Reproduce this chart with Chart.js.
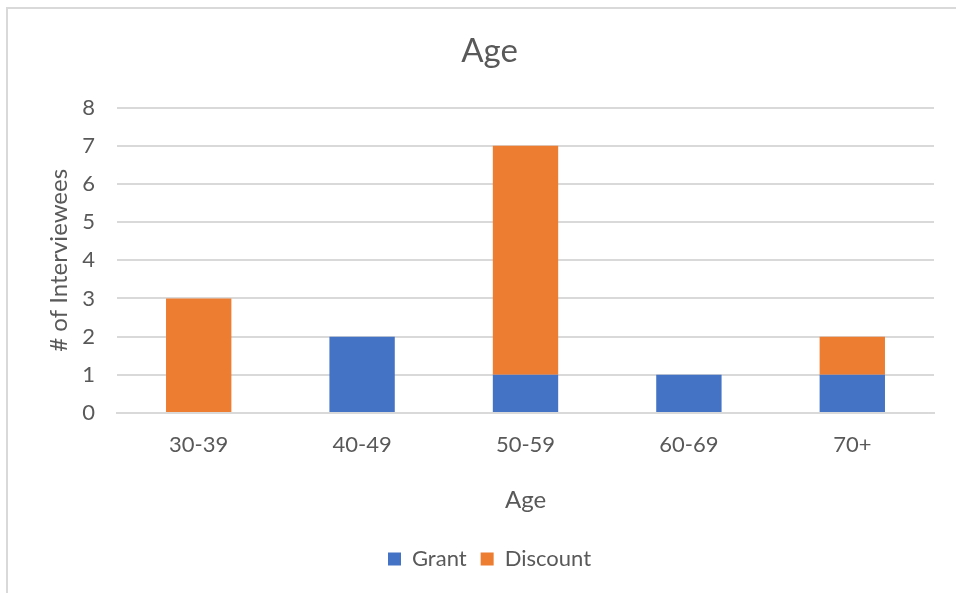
<!DOCTYPE html>
<html>
<head>
<meta charset="utf-8">
<script src="https://cdn.jsdelivr.net/npm/chart.js@4/dist/chart.umd.min.js"></script>
<style>
html,body{margin:0;padding:0;background:#fff;}
#wrap{position:relative;width:956px;height:593px;}
#frame{position:absolute;left:6px;top:7px;right:0;bottom:0;border-left:2px solid #d9d9d9;border-top:2px solid #d9d9d9;pointer-events:none;}
canvas{position:absolute;left:0;top:0;}
</style>
</head>
<body>
<div id="wrap">
<canvas id="c" width="956" height="593"></canvas>
<div id="frame"></div>
</div>
<script>
const categories = ["30-39", "40-49", "50-59", "60-69", "70+"];
const grant = [0, 2, 1, 1, 1];
const discount = [3, 0, 6, 0, 1];
const yTicks = [0, 1, 2, 3, 4, 5, 6, 7, 8];

const FONT = "Lato, 'Open Sans', sans-serif";
const TXT = "#595959";

new Chart(document.getElementById('c'), {
  type: 'bar',
  data: {
    labels: categories,
    datasets: [
      { label: 'Grant', data: grant, backgroundColor: '#4472C4', categoryPercentage: 1, barPercentage: 0.4 },
      { label: 'Discount', data: discount, backgroundColor: '#ED7D31', categoryPercentage: 1, barPercentage: 0.4 }
    ]
  },
  options: {
    responsive: false,
    animation: false,
    layout: { padding: { left: 45, right: 22, top: 32, bottom: 13 } },
    plugins: {
      title: { display: true, text: 'Age', color: TXT, font: { family: FONT, size: 33, weight: 'normal' }, padding: { top: 0, bottom: 36 } },
      legend: {
        position: 'bottom',
        labels: { color: TXT, font: { family: FONT, size: 22 }, boxWidth: 13, boxHeight: 13, padding: 14 }
      },
      tooltip: { enabled: false }
    },
    scales: {
      x: {
        stacked: true,
        afterFit: (s) => { s.height = 121; },
        grid: { display: false, drawTicks: false },
        border: { display: true, color: '#d9d9d9', width: 2 },
        ticks: { color: TXT, font: { family: FONT, size: 22 }, padding: 19 },
        title: { display: true, text: 'Age', color: TXT, font: { family: FONT, size: 24 }, padding: { top: 20, bottom: 19 } }
      },
      y: {
        stacked: true,
        min: 0, max: 8,
        afterBuildTicks: (s) => { s.ticks = yTicks.map(v => ({ value: v })); },
        afterFit: (s) => { s.width = 72; },
        grid: { color: '#d9d9d9', lineWidth: 2, drawTicks: false },
        border: { display: false },
        ticks: { color: TXT, font: { family: FONT, size: 22 }, padding: 22 },
        title: { display: true, text: '# of Interviewees', color: TXT, font: { family: FONT, size: 24 }, padding: { top: 0, bottom: 10 } }
      }
    }
  }
});
</script>
</body>
</html>
